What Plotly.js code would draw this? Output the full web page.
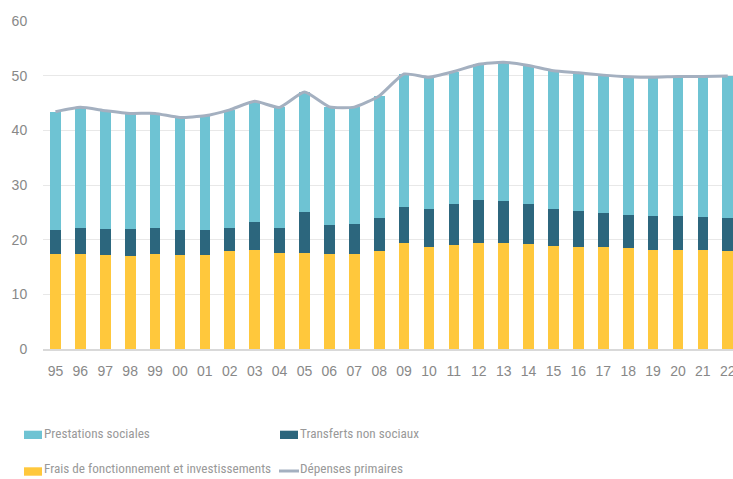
<!DOCTYPE html>
<html>
<head>
<meta charset="utf-8">
<script src="https://cdn.plot.ly/plotly-3.0.1.min.js"></script>
<style>html,body{margin:0;padding:0;background:#fff;}#chart{width:733px;height:479px;}</style>
</head>
<body>
<div id="chart"></div>
<script>
var years = ['95','96','97','98','99','00','01','02','03','04','05','06','07','08','09','10','11','12','13','14','15','16','17','18','19','20','21','22'];
var frais = [17.3,17.3,17.2,17.05,17.4,17.2,17.2,17.9,18.15,17.65,17.55,17.4,17.3,17.9,19.3,18.7,19.05,19.4,19.4,19.2,18.8,18.7,18.6,18.45,18.1,18.1,18.1,18.0];
var transferts = [4.45,4.75,4.8,4.85,4.8,4.55,4.5,4.3,5.0,4.4,7.6,5.3,5.6,6.05,6.65,6.95,7.55,7.9,7.6,7.4,6.85,6.6,6.2,6.1,6.2,6.2,6.1,6.0];
var prestations = [21.65,22.15,21.6,21.2,20.9,20.6,20.95,21.55,22.15,22.15,21.85,21.6,21.35,22.35,24.35,24.05,24.15,24.8,25.45,25.25,25.25,25.25,25.3,25.25,25.4,25.55,25.65,25.95];
var depenses = [43.4,44.2,43.6,43.1,43.1,42.35,42.65,43.75,45.3,44.2,47.0,44.3,44.25,46.3,50.3,49.7,50.75,52.1,52.45,51.85,50.9,50.55,50.1,49.8,49.7,49.85,49.85,49.95];
var yTicks = [0,10,20,30,40,50,60];
var legendNames = ['Prestations sociales','Transferts non sociaux','Frais de fonctionnement et investissements','Dépenses primaires'];

var cLight = '#6EC3D3', cDark = '#2C667D', cYellow = '#FFC83C', cLine = '#A4B0C0';
var bw = 0.43;
var traces = [
  {type:'bar', x:years, y:frais, name:legendNames[2], marker:{color:cYellow}, width:bw},
  {type:'bar', x:years, y:transferts, name:legendNames[1], marker:{color:cDark}, width:bw},
  {type:'bar', x:years, y:prestations, name:legendNames[0], marker:{color:cLight}, width:bw},
  {type:'scatter', mode:'lines', x:years, y:depenses, name:legendNames[3], line:{color:cLine, width:3, shape:'spline', smoothing:0.5}}
];

var L = 43, T = 21, W = 690, H = 328;
function px(x){ return (x - L) / W; }
function py(y){ return (T + H - y) / H; }
var legendFont = {family:'"Roboto Condensed", "DejaVu Sans Condensed", sans-serif', size:13.2, color:'#999999'};
var shapes = [
  {type:'rect', xref:'paper', yref:'paper', x0:px(24), x1:px(42), y0:py(439), y1:py(430.7), fillcolor:cLight, line:{width:0}},
  {type:'rect', xref:'paper', yref:'paper', x0:px(280), x1:px(298), y0:py(439), y1:py(430.7), fillcolor:cDark, line:{width:0}},
  {type:'rect', xref:'paper', yref:'paper', x0:px(24), x1:px(42), y0:py(475.7), y1:py(467.3), fillcolor:cYellow, line:{width:0}},
  {type:'line', xref:'paper', yref:'paper', x0:px(279), x1:px(299), y0:py(471), y1:py(471), line:{color:cLine, width:3}}
];
var annotations = [
  {xref:'paper', yref:'paper', x:px(41.5), y:py(433), xanchor:'left', yanchor:'middle', text:legendNames[0], showarrow:false, font:legendFont},
  {xref:'paper', yref:'paper', x:px(298), y:py(433), xanchor:'left', yanchor:'middle', text:legendNames[1], showarrow:false, font:legendFont},
  {xref:'paper', yref:'paper', x:px(41.5), y:py(469), xanchor:'left', yanchor:'middle', text:legendNames[2], showarrow:false, font:legendFont},
  {xref:'paper', yref:'paper', x:px(298), y:py(469), xanchor:'left', yanchor:'middle', text:legendNames[3], showarrow:false, font:legendFont}
];

var layout = {
  width:733, height:479,
  margin:{l:L, r:0, t:T, b:479-T-H, pad:0},
  barmode:'stack',
  showlegend:false,
  paper_bgcolor:'#ffffff', plot_bgcolor:'#ffffff',
  font:{family:'"Liberation Sans", Arial, sans-serif', size:14, color:'#888888'},
  xaxis:{type:'category', range:[-0.5, 27.21], showgrid:false, showline:true, linecolor:'#D9D9D9', linewidth:2,
         ticks:'outside', ticklen:8, tickcolor:'rgba(0,0,0,0)', tickfont:{size:14, color:'#888888'}, fixedrange:true},
  yaxis:{range:[0,60], tickvals:yTicks, ticktext:yTicks.map(String), showgrid:true, gridcolor:'#E8E8E8', gridwidth:1, zeroline:false, showline:false,
         ticks:'outside', ticklen:12, tickcolor:'rgba(0,0,0,0)', tickfont:{size:14, color:'#888888'}, fixedrange:true},
  shapes:shapes,
  annotations:annotations
};
Plotly.newPlot('chart', traces, layout, {staticPlot:true, displayModeBar:false});
</script>
</body>
</html>
